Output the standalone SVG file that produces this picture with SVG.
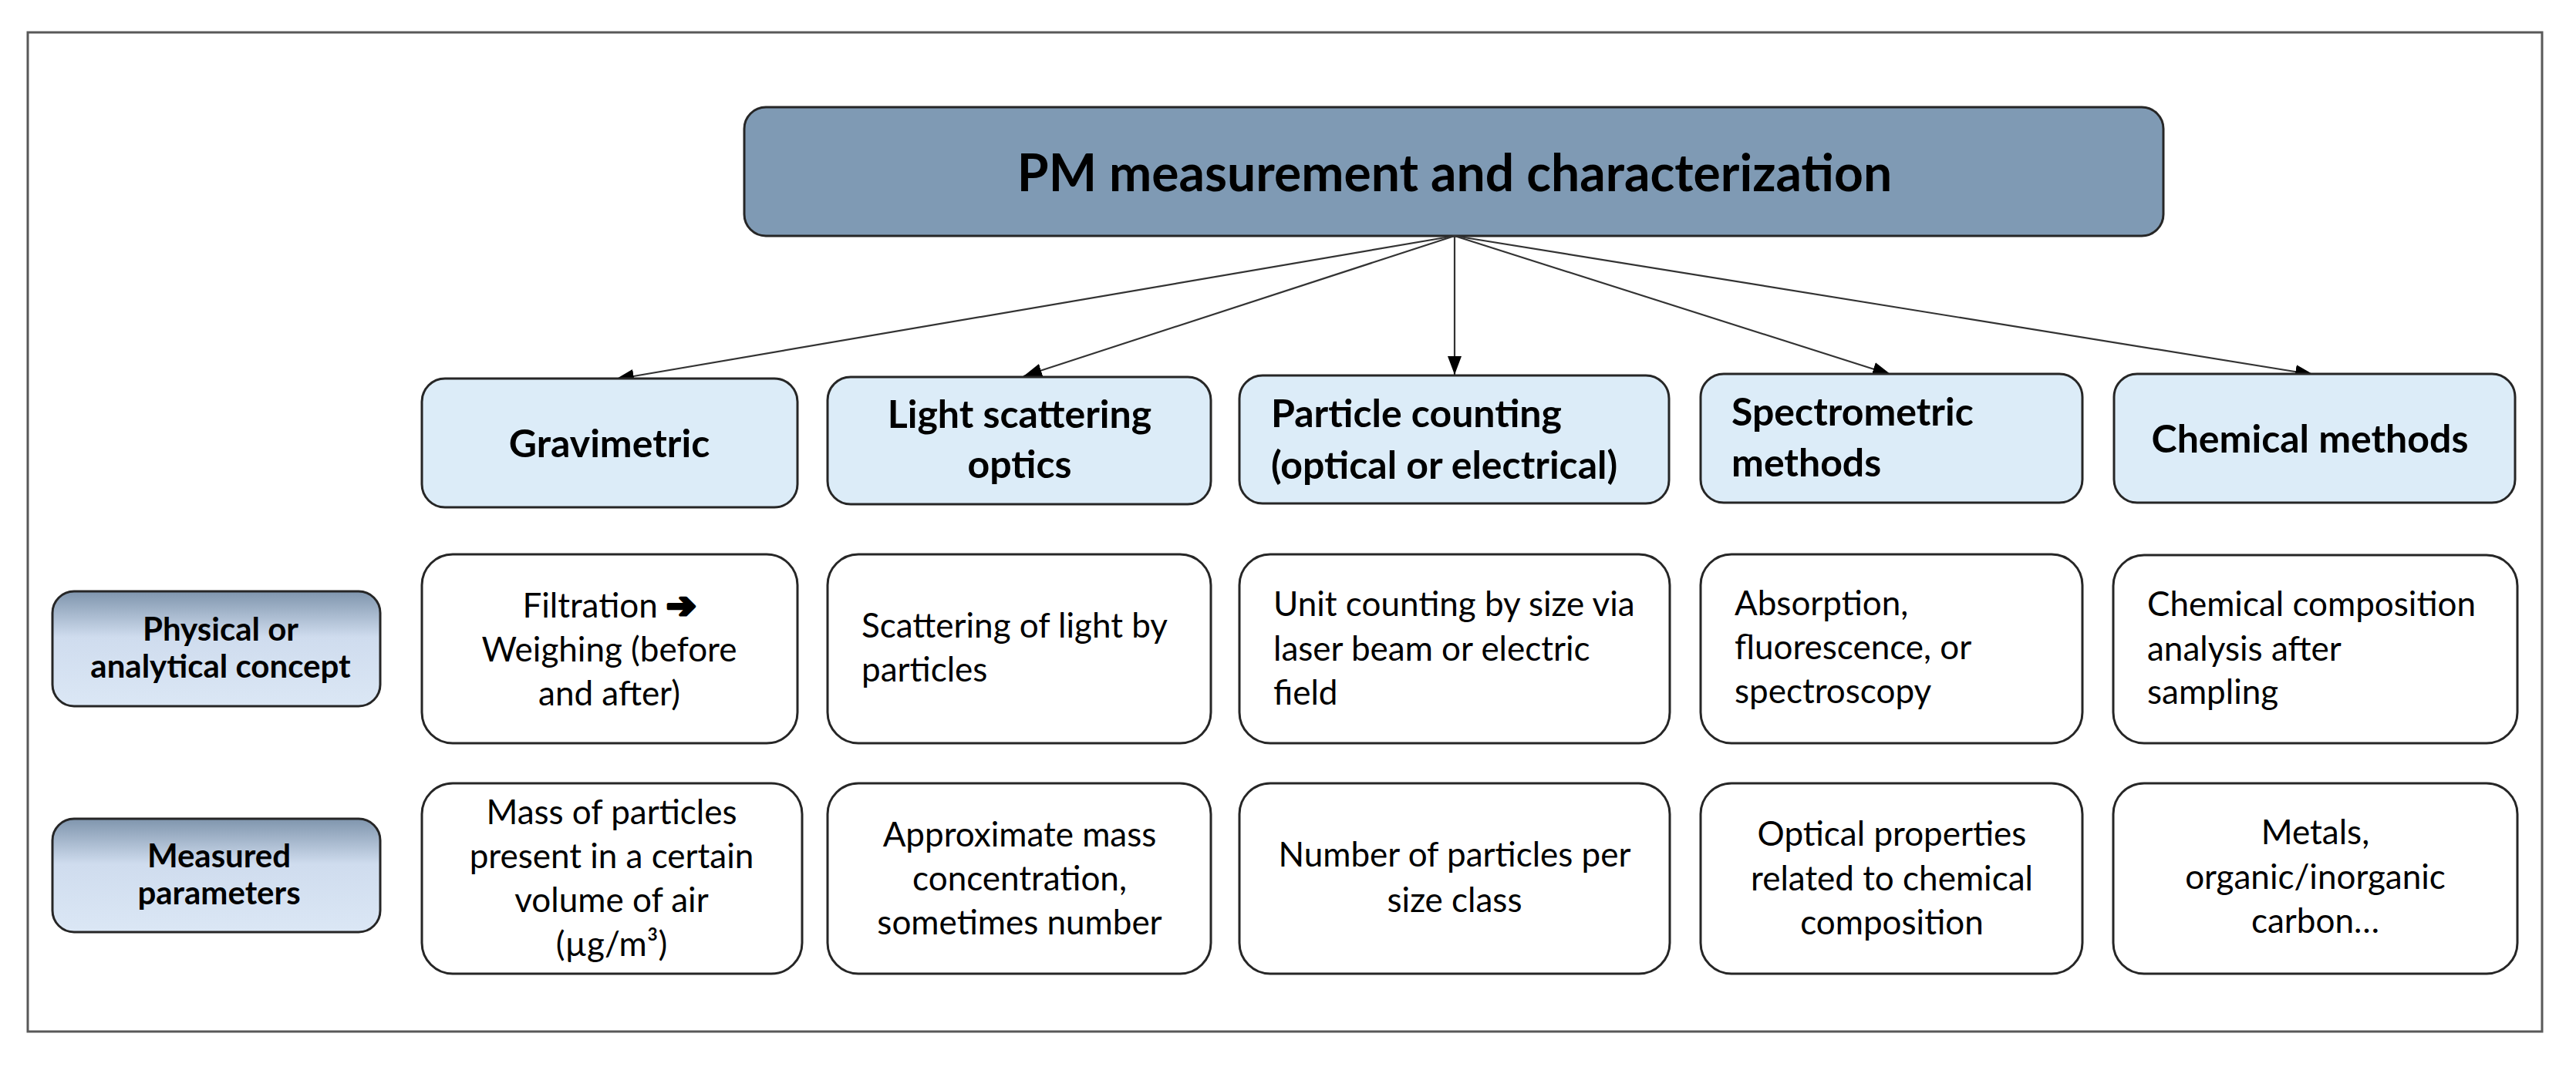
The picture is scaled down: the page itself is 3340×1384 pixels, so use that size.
<svg xmlns="http://www.w3.org/2000/svg" width="3340" height="1384" viewBox="0 0 3340 1384">
<defs>
<linearGradient id="lbl" x1="0" y1="0" x2="0" y2="1">
<stop offset="0" stop-color="#7f95ad"/>
<stop offset="0.4" stop-color="#cfdcee"/>
<stop offset="1" stop-color="#dbe7f5"/>
</linearGradient>
<marker id="ah" markerUnits="userSpaceOnUse" markerWidth="26" markerHeight="20" refX="24" refY="9" orient="auto">
<path d="M0,0 L24,9 L0,18 z" fill="#000"/>
</marker>
<style>
.frame{fill:#fff;stroke:#595959;stroke-width:3}
.top{fill:#7f9ab4;stroke:#262626;stroke-width:3}
.meth{fill:#dcecf8;stroke:#262626;stroke-width:3}
.cell{fill:#fff;stroke:#262626;stroke-width:3}
.lab{fill:url(#lbl);stroke:#262626;stroke-width:3}
.conn line{stroke:#333;stroke-width:2.2;marker-end:url(#ah)}
text{font-family:Lato,"Open Sans","Liberation Sans",sans-serif;fill:#000}
.t0{font-size:66px;font-weight:700;text-anchor:middle}
.t1{font-size:50px;font-weight:700}
.t2{font-size:42px;font-weight:700;text-anchor:middle}
.b{font-size:44px}
.c{text-anchor:middle}
.arr{font-family:"DejaVu Sans",sans-serif;font-weight:700;font-size:46px;stroke:#000;stroke-width:4;stroke-linejoin:round}
</style>
</defs>
<rect class="frame" x="36" y="42" width="3260" height="1296"/>
<g id="root">
<rect class="top" x="965" y="139" width="1840" height="167" rx="28"/>
<text class="t0" x="1886" y="248">PM measurement and characterization</text>
</g>
<g class="conn" id="connectors">
<line x1="1886" y1="306" x2="798" y2="492"/>
<line x1="1886" y1="306" x2="1327" y2="488"/>
<line x1="1886" y1="306" x2="1886" y2="486"/>
<line x1="1886" y1="306" x2="2452" y2="486"/>
<line x1="1886" y1="306" x2="3000" y2="486"/>
</g>
<g id="m-grav">
<rect class="meth" x="547" y="491" width="487" height="167" rx="30"/>
<text class="t1 c" x="790" y="593">Gravimetric</text>
</g>
<g id="m-light">
<rect class="meth" x="1073" y="489" width="497" height="165" rx="30"/>
<text class="t1 c" x="1322" y="555">Light scattering</text>
<text class="t1 c" x="1322" y="620">optics</text>
</g>
<g id="m-count">
<rect class="meth" x="1607" y="487" width="557" height="166" rx="30"/>
<text class="t1" x="1648" y="554">Particle counting</text>
<text class="t1" x="1648" y="621">(optical or electrical)</text>
</g>
<g id="m-spec">
<rect class="meth" x="2205" y="485" width="495" height="167" rx="30"/>
<text class="t1" x="2245" y="552">Spectrometric</text>
<text class="t1" x="2245" y="618">methods</text>
</g>
<g id="m-chem">
<rect class="meth" x="2741" y="485" width="520" height="167" rx="30"/>
<text class="t1 c" x="2995" y="587">Chemical methods</text>
</g>
<g id="lab-concept">
<rect class="lab" x="68" y="767" width="425" height="149" rx="28"/>
<text class="t2" x="286" y="831">Physical or</text>
<text class="t2" x="286" y="879">analytical concept</text>
</g>
<g id="lab-measured">
<rect class="lab" x="68" y="1062" width="425" height="147" rx="28"/>
<text class="t2" x="284" y="1125">Measured</text>
<text class="t2" x="284" y="1173">parameters</text>
</g>
<g id="c-grav">
<rect class="cell" x="547" y="719" width="487" height="245" rx="40"/>
<text class="b c" x="790" y="801">Filtration <tspan class="arr">➔</tspan></text>
<text class="b c" x="790" y="858">Weighing (before</text>
<text class="b c" x="790" y="915">and after)</text>
</g>
<g id="c-light">
<rect class="cell" x="1073" y="719" width="497" height="245" rx="40"/>
<text class="b" x="1117" y="827">Scattering of light by</text>
<text class="b" x="1117" y="884">particles</text>
</g>
<g id="c-count">
<rect class="cell" x="1607" y="719" width="558" height="245" rx="40"/>
<text class="b" x="1651" y="799">Unit counting by size via</text>
<text class="b" x="1651" y="857">laser beam or electric</text>
<text class="b" x="1651" y="914">field</text>
</g>
<g id="c-spec">
<rect class="cell" x="2205" y="719" width="495" height="245" rx="40"/>
<text class="b" x="2249" y="798">Absorption,</text>
<text class="b" x="2249" y="855">fluorescence, or</text>
<text class="b" x="2249" y="912">spectroscopy</text>
</g>
<g id="c-chem">
<rect class="cell" x="2740" y="720" width="524" height="244" rx="40"/>
<text class="b" x="2784" y="799">Chemical composition</text>
<text class="b" x="2784" y="857">analysis after</text>
<text class="b" x="2784" y="913">sampling</text>
</g>
<g id="p-grav">
<rect class="cell" x="547" y="1016" width="493" height="247" rx="40"/>
<text class="b c" x="793" y="1069">Mass of particles</text>
<text class="b c" x="793" y="1126">present in a certain</text>
<text class="b c" x="793" y="1183">volume of air</text>
<text class="b c" x="793" y="1240">(µg/m³)</text>
</g>
<g id="p-light">
<rect class="cell" x="1073" y="1016" width="497" height="247" rx="40"/>
<text class="b c" x="1322" y="1098">Approximate mass</text>
<text class="b c" x="1322" y="1155">concentration,</text>
<text class="b c" x="1322" y="1212">sometimes number</text>
</g>
<g id="p-count">
<rect class="cell" x="1607" y="1016" width="558" height="247" rx="40"/>
<text class="b c" x="1886" y="1124">Number of particles per</text>
<text class="b c" x="1886" y="1183">size class</text>
</g>
<g id="p-spec">
<rect class="cell" x="2205" y="1016" width="495" height="247" rx="40"/>
<text class="b c" x="2453" y="1097">Optical properties</text>
<text class="b c" x="2453" y="1155">related to chemical</text>
<text class="b c" x="2453" y="1212">composition</text>
</g>
<g id="p-chem">
<rect class="cell" x="2740" y="1016" width="524" height="247" rx="40"/>
<text class="b c" x="3002" y="1095">Metals,</text>
<text class="b c" x="3002" y="1153">organic/inorganic</text>
<text class="b c" x="3002" y="1210">carbon…</text>
</g>
</svg>
